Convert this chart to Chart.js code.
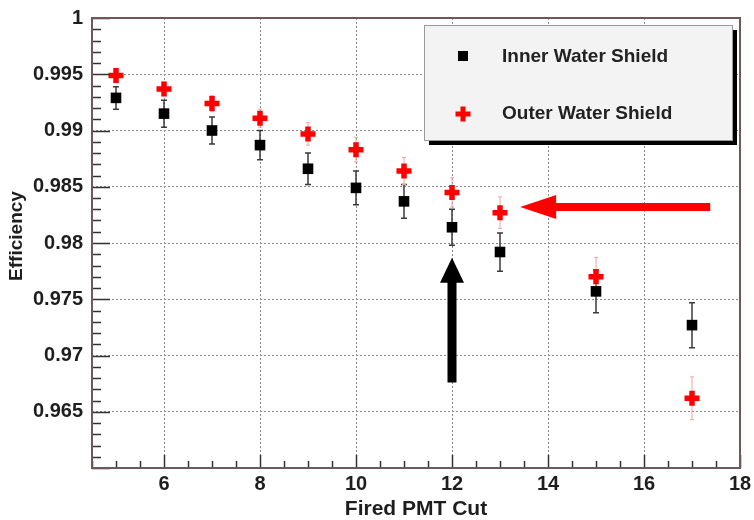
<!DOCTYPE html>
<html>
<head>
<meta charset="utf-8">
<script src="https://cdn.jsdelivr.net/npm/chart.js@4.4.0/dist/chart.umd.min.js"></script>
<style>
  html, body { margin: 0; background: #fff; }
  canvas { display: block; }
</style>
</head>
<body>
<canvas id="eff" width="754" height="520"></canvas>
<script>
"use strict"
// fired PMT cut values
var cuts = [5, 6, 7, 8, 9, 10, 11, 12, 13, 15, 17];
// inner water shield efficiency and errors
var innerEff = [0.9929, 0.9915, 0.9900, 0.9887, 0.9866, 0.9849, 0.9837, 0.9814, 0.9792, 0.9757, 0.9727];
var innerErr = [0.0010, 0.0012, 0.0012, 0.0013, 0.0014, 0.0015, 0.0015, 0.0016, 0.0017, 0.0019, 0.0020];
// outer water shield efficiency and errors
var outerEff = [0.9949, 0.9937, 0.9924, 0.9911, 0.9897, 0.9883, 0.9864, 0.9845, 0.9827, 0.9770, 0.9662];
var outerErr = [0.0005, 0.0006, 0.0007, 0.0008, 0.0010, 0.0011, 0.0012, 0.0013, 0.0014, 0.0017, 0.0019];
var seriesNames = ['Inner Water Shield', 'Outer Water Shield'];
var xTicks = [6, 8, 10, 12, 14, 16, 18];
var yTicks = [0.965, 0.97, 0.975, 0.98, 0.985, 0.99, 0.995, 1];
var yTitle = 'Efficiency';

var FONT = "'Liberation Sans', Arial, Helvetica, sans-serif";

// annotation arrows, in data units
var arrows = [
    { from: [12, 0.9676], to: [12, 0.9787], color: '#000', shaft: 9, headW: 24, headL: 25 },
    { from: [17.38, 0.9832], to: [13.42, 0.9832], color: '#ff0000', shaft: 8, headW: 24, headL: 36 }
];

function points(ys) {
    return cuts.map(function(x, i) { return { x: x, y: ys[i] }; });
}

function drawArrow(ctx, x1, y1, x2, y2, a) {
    var dx = x2 - x1, dy = y2 - y1;
    var len = Math.sqrt(dx * dx + dy * dy);
    var ux = dx / len, uy = dy / len;
    var px = -uy, py = ux;
    var bx = x2 - ux * a.headL, by = y2 - uy * a.headL;
    var s = a.shaft / 2, h = a.headW / 2;
    ctx.beginPath();
    ctx.moveTo(x1 + px * s, y1 + py * s);
    ctx.lineTo(bx + px * s, by + py * s);
    ctx.lineTo(bx + px * h, by + py * h);
    ctx.lineTo(x2, y2);
    ctx.lineTo(bx - px * h, by - py * h);
    ctx.lineTo(bx - px * s, by - py * s);
    ctx.lineTo(x1 - px * s, y1 - py * s);
    ctx.closePath();
    ctx.fillStyle = a.color;
    ctx.fill();
}

var errorBars = {
    id: 'errorBars',
    beforeDatasetsDraw: function(chart) {
        var ctx = chart.ctx, xs = chart.scales.x, ys = chart.scales.y;
        var sets = [
            { v: innerEff, e: innerErr, color: '#3a3a3a', w: 1.5, cap: 3 },
            { v: outerEff, e: outerErr, color: '#f3a3a3', w: 1, cap: 2 }
        ];
        ctx.save();
        sets.forEach(function(s) {
            ctx.strokeStyle = s.color;
            ctx.lineWidth = s.w;
            cuts.forEach(function(c, i) {
                var x = xs.getPixelForValue(c);
                var top = ys.getPixelForValue(s.v[i] + s.e[i]);
                var bot = ys.getPixelForValue(s.v[i] - s.e[i]);
                ctx.beginPath();
                ctx.moveTo(x, top); ctx.lineTo(x, bot);
                ctx.moveTo(x - s.cap, top); ctx.lineTo(x + s.cap, top);
                ctx.moveTo(x - s.cap, bot); ctx.lineTo(x + s.cap, bot);
                ctx.stroke();
            });
        });
        ctx.restore();
    }
};

var frameAndExtras = {
    id: 'frameAndExtras',
    afterDatasetsDraw: function(chart) {
        var ctx = chart.ctx, a = chart.chartArea;
        var xs = chart.scales.x, ys = chart.scales.y;
        ctx.save();
        // ticks (inward, ROOT style)
        ctx.strokeStyle = '#333';
        ctx.lineWidth = 1.5;
        ctx.beginPath();
        for (var k = 0; k <= 40; k++) {
            var yv = 0.96 + k * 0.001;
            var py = Math.round(ys.getPixelForValue(yv)) + 0.5;
            var L = (k % 5 === 0) ? 18 : 9;
            ctx.moveTo(a.left, py); ctx.lineTo(a.left + L, py);
        }
        for (var m = 9; m <= 36; m++) {
            var xv = m * 0.5;
            var px = Math.round(xs.getPixelForValue(xv)) + 0.5;
            var Lx = (m % 4 === 0) ? 13 : 7;
            ctx.moveTo(px, a.bottom); ctx.lineTo(px, a.bottom - Lx);
        }
        ctx.stroke();
        // frame
        ctx.strokeStyle = '#6e5858';
        ctx.lineWidth = 2;
        ctx.strokeRect(a.left, a.top, a.right - a.left, a.bottom - a.top);
        // arrows
        arrows.forEach(function(ar) {
            drawArrow(ctx,
                xs.getPixelForValue(ar.from[0]), ys.getPixelForValue(ar.from[1]),
                xs.getPixelForValue(ar.to[0]), ys.getPixelForValue(ar.to[1]), ar);
        });
        // legend box
        var L0 = 424, T0 = 25, W = 308, H = 115;
        ctx.fillStyle = '#000';
        ctx.fillRect(L0 + 5, T0 + 5, W, H);
        ctx.fillStyle = '#f3f3f3';
        ctx.fillRect(L0, T0, W, H);
        ctx.strokeStyle = '#9a9a9a';
        ctx.lineWidth = 1;
        ctx.strokeRect(L0 + 0.5, T0 + 0.5, W, H);
        // legend markers
        ctx.fillStyle = '#000';
        ctx.fillRect(458, 51, 10, 10);
        ctx.strokeStyle = '#ff0000';
        ctx.lineWidth = 5;
        ctx.beginPath();
        ctx.moveTo(463, 106.5); ctx.lineTo(463, 121.5);
        ctx.moveTo(455.5, 114); ctx.lineTo(470.5, 114);
        ctx.stroke();
        // legend text
        ctx.fillStyle = '#222';
        ctx.font = 'bold 19px ' + FONT;
        ctx.textBaseline = 'middle';
        ctx.textAlign = 'left';
        ctx.fillText(seriesNames[0], 502, 57);
        ctx.fillText(seriesNames[1], 502, 114);
        // y axis title
        ctx.translate(17, 236);
        ctx.rotate(-Math.PI / 2);
        ctx.textAlign = 'center';
        ctx.fillStyle = '#1e1e1e';
        ctx.font = 'bold 19px ' + FONT;
        ctx.fillText(yTitle, 0, 0);
        ctx.restore();
    }
};

var ctx = document.getElementById('eff');
var chart = new Chart(ctx, {
    type: 'scatter',
    data: {
        datasets: [{
            label: seriesNames[0],
            data: points(innerEff),
            pointStyle: 'rect',
            pointRadius: 7.5,
            backgroundColor: '#000',
            borderWidth: 0,
            showLine: false
        }, {
            label: seriesNames[1],
            data: points(outerEff),
            pointStyle: 'cross',
            pointRadius: 7.5,
            borderColor: '#ff0000',
            backgroundColor: '#ff0000',
            borderWidth: 5.5,
            showLine: false
        }]
    },
    options: {
        responsive: false,
        animation: false,
        events: [],
        layout: { padding: { left: 0, top: 18, right: 14, bottom: 0 } },
        plugins: {
            legend: { display: false },
            tooltip: { enabled: false }
        },
        scales: {
            x: {
                type: 'linear',
                min: 4.5,
                max: 18,
                afterBuildTicks: function(scale) {
                    scale.ticks = xTicks.map(function(v) { return { value: v }; });
                },
                afterFit: function(scale) {
                    scale.height = 52;
                    scale.paddingLeft = 0;
                    scale.paddingRight = 0;
                },
                grid: { color: '#8a8a8a', lineWidth: 1, drawTicks: false },
                border: { display: false, dash: [2, 2] },
                ticks: {
                    padding: 4,
                    color: '#1e1e1e',
                    font: { family: FONT, size: 20, weight: 'bold' },
                    maxRotation: 0,
                    callback: function(v) { return String(v); }
                },
                title: {
                    display: true,
                    text: 'Fired PMT Cut',
                    color: '#1e1e1e',
                    font: { family: FONT, size: 21, weight: 'bold', lineHeight: 1 },
                    padding: { top: 0.5, bottom: 0 }
                }
            },
            y: {
                type: 'linear',
                min: 0.96,
                max: 1,
                afterBuildTicks: function(scale) {
                    scale.ticks = yTicks.map(function(v) { return { value: v }; });
                },
                afterFit: function(scale) {
                    scale.width = 92;
                    scale.paddingTop = 0;
                    scale.paddingBottom = 0;
                },
                grid: { color: '#8a8a8a', lineWidth: 1, drawTicks: false },
                border: { display: false, dash: [2, 2] },
                ticks: {
                    padding: 9,
                    color: '#1e1e1e',
                    font: { family: FONT, size: 20, weight: 'bold' },
                    callback: function(v) { return String(Number(v.toFixed(3))); }
                }
            }
        }
    },
    plugins: [errorBars, frameAndExtras]
});
</script>
</body>
</html>
